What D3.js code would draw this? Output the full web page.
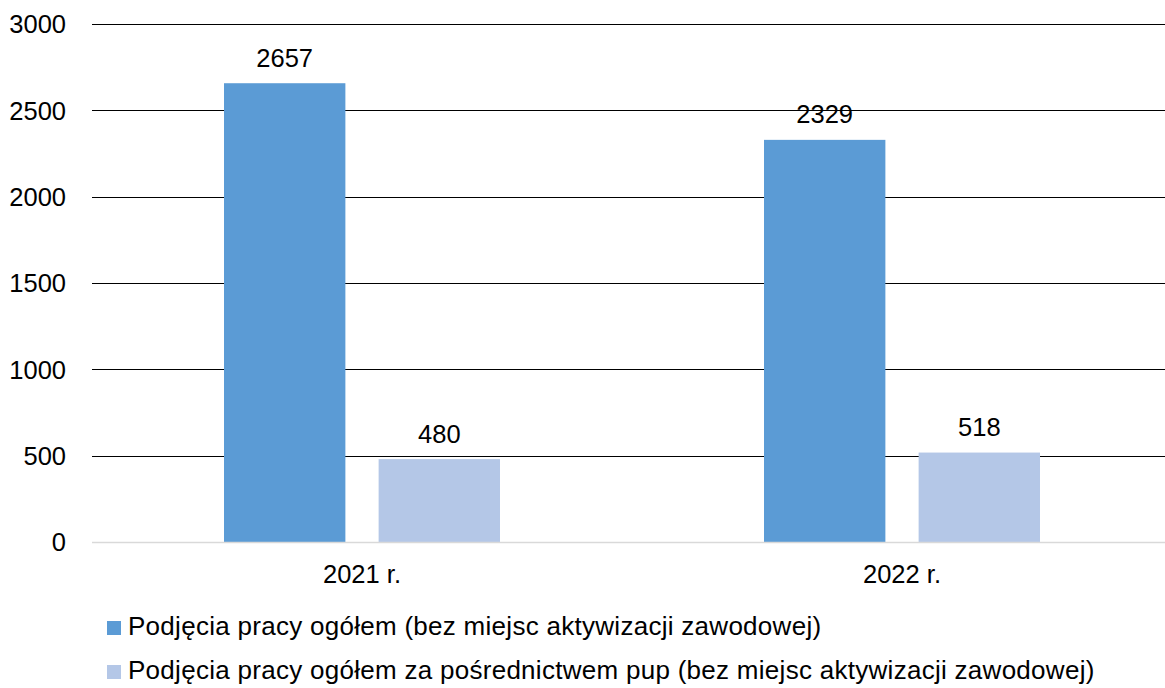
<!DOCTYPE html>
<html>
<head>
<meta charset="utf-8">
<script src="https://cdn.jsdelivr.net/npm/d3@7"></script>
<style>
  html, body { margin: 0; padding: 0; background: #fff; }
  svg { display: block; font-family: "Liberation Sans", Arial, sans-serif; }
</style>
</head>
<body>
<svg id="chart" width="1165" height="688"></svg>
<script>
const categories = ["2021 r.", "2022 r."];
const seriesNames = [
  "Podjęcia pracy ogółem (bez miejsc aktywizacji zawodowej)",
  "Podjęcia pracy ogółem za pośrednictwem pup (bez miejsc aktywizacji zawodowej)"
];
const seriesTotal = [2657, 2329];
const seriesPup = [480, 518];
const yTicks = [0, 500, 1000, 1500, 2000, 2500, 3000];
const colors = ["#5b9bd5", "#b4c7e7"];

const svg = d3.select("#chart");
const mLeft = 92, mRight = 1172, mTop = 24, mBottom = 542;
const fs = 25.5;

const x0 = d3.scaleBand().domain(categories).range([mLeft, mRight]).paddingInner(0).paddingOuter(0);
const x1 = d3.scaleBand().domain([0, 1]).range([132, 408]).paddingInner(0.215).paddingOuter(0);
const y = d3.scaleLinear().domain([0, 3000]).range([mBottom, mTop]);

// gridlines
svg.append("g").selectAll("line").data(yTicks.filter(d => d > 0)).join("line")
  .attr("x1", mLeft).attr("x2", mRight)
  .attr("y1", d => Math.round(y(d)) + 0.5).attr("y2", d => Math.round(y(d)) + 0.5)
  .attr("stroke", "#000").attr("stroke-width", 1);

// y tick labels
svg.append("g").selectAll("text").data(yTicks).join("text")
  .attr("x", 66).attr("y", d => y(d) + 9.3)
  .attr("text-anchor", "end").attr("font-size", fs).attr("fill", "#000")
  .text(d => d);

const rows = categories.map((c, i) => ({ c, vals: [seriesTotal[i], seriesPup[i]] }));

const groups = svg.append("g").selectAll("g").data(rows).join("g")
  .attr("transform", d => `translate(${x0(d.c)},0)`);

groups.selectAll("rect").data(d => d.vals.map((v, k) => ({ v, k }))).join("rect")
  .attr("x", d => x1(d.k))
  .attr("y", d => y(d.v))
  .attr("width", x1.bandwidth())
  .attr("height", d => mBottom - y(d.v))
  .attr("fill", d => colors[d.k]);

groups.selectAll("text.val").data(d => d.vals.map((v, k) => ({ v, k }))).join("text")
  .attr("class", "val")
  .attr("x", d => x1(d.k) + x1.bandwidth() / 2)
  .attr("y", d => y(d.v) - 16.5)
  .attr("text-anchor", "middle").attr("font-size", fs).attr("fill", "#000")
  .text(d => d.v);

// baseline
svg.append("line").attr("x1", mLeft).attr("x2", mRight)
  .attr("y1", mBottom + 0.5).attr("y2", mBottom + 0.5)
  .attr("stroke", "#d9d9d9").attr("stroke-width", 1.5);

// category labels
svg.append("g").selectAll("text").data(categories).join("text")
  .attr("x", d => x0(d) + x0.bandwidth() / 2)
  .attr("y", 583.3)
  .attr("text-anchor", "middle").attr("font-size", fs).attr("fill", "#000")
  .text(d => d);

// legend
const lg = svg.append("g").selectAll("g").data(seriesNames).join("g")
  .attr("transform", (d, i) => `translate(107,${634.5 + i * 44})`);
lg.append("rect").attr("x", 0).attr("y", -13.5).attr("width", 14).attr("height", 14)
  .attr("fill", (d, i) => colors[i]);
lg.append("text").attr("x", 21).attr("y", 0)
  .attr("font-size", 26).attr("letter-spacing", 0.28).attr("fill", "#000").text(d => d);
</script>
</body>
</html>
